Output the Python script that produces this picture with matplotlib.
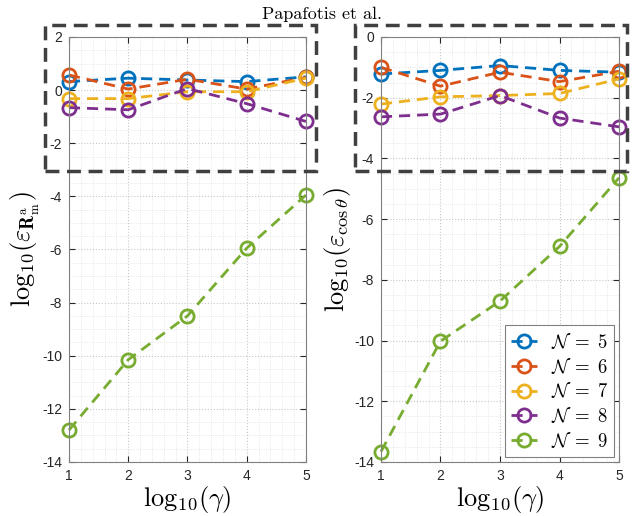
import matplotlib
matplotlib.use("Agg")
import matplotlib.pyplot as plt
from matplotlib.ticker import MultipleLocator
from matplotlib.patches import Rectangle

plt.rcParams['mathtext.fontset'] = 'cm'
plt.rcParams['axes.unicode_minus'] = False
plt.rcParams['font.family'] = ['Liberation Sans', 'DejaVu Sans']

gamma = [1, 2, 3, 4, 5]
labels = [r'$\mathcal{N}\;=\;5$', r'$\mathcal{N}\;=\;6$', r'$\mathcal{N}\;=\;7$',
          r'$\mathcal{N}\;=\;8$', r'$\mathcal{N}\;=\;9$']
colors = ['#0072BD', '#D95319', '#EDB120', '#7E2F8E', '#77AC30']

err_R_N5 = [0.32, 0.45, 0.38, 0.32, 0.50]
err_R_N6 = [0.57, 0.04, 0.41, 0.04, 0.48]
err_R_N7 = [-0.32, -0.32, -0.06, -0.06, 0.45]
err_R_N8 = [-0.66, -0.74, 0.06, -0.51, -1.18]
err_R_N9 = [-12.8, -10.15, -8.5, -5.95, -3.95]

err_cos_N5 = [-1.22, -1.10, -0.94, -1.10, -1.16]
err_cos_N6 = [-1.00, -1.62, -1.16, -1.47, -1.13]
err_cos_N7 = [-2.21, -1.97, -1.93, -1.86, -1.38]
err_cos_N8 = [-2.63, -2.54, -1.93, -2.67, -2.96]
err_cos_N9 = [-13.66, -10.02, -8.70, -6.90, -4.64]

left_series = [err_R_N5, err_R_N6, err_R_N7, err_R_N8, err_R_N9]
right_series = [err_cos_N5, err_cos_N6, err_cos_N7, err_cos_N8, err_cos_N9]

fig = plt.figure(figsize=(6.44, 5.16), dpi=100)
axL = fig.add_axes([0.1071, 0.1047, 0.368, 0.8236])
axR = fig.add_axes([0.5916, 0.1047, 0.3696, 0.8236])

def style(ax, ylim):
    ax.set_xlim(1, 5)
    ax.set_ylim(*ylim)
    ax.xaxis.set_major_locator(MultipleLocator(1))
    ax.xaxis.set_minor_locator(MultipleLocator(0.2))
    ax.yaxis.set_major_locator(MultipleLocator(2))
    ax.yaxis.set_minor_locator(MultipleLocator(0.5))
    ax.grid(True, which='major', linestyle=':', color='#c8c8c8', linewidth=0.8)
    ax.grid(True, which='minor', linestyle=':', color='#e0e0e0', linewidth=0.6)
    ax.set_axisbelow(True)
    ax.tick_params(which='both', direction='in', top=True, right=True,
                   labelsize=10, colors='#262626', labelcolor='#262626')
    ax.tick_params(which='major', length=4, pad=5)
    ax.tick_params(which='minor', length=0)
    for s in ax.spines.values():
        s.set_color('#808080')
        s.set_linewidth(0.8)
    ax.set_xlabel(r'$\mathrm{log}_{10}(\gamma)$', fontsize=19, labelpad=1)

for ax, series in ((axL, left_series), (axR, right_series)):
    for vals, c, lab in zip(series, colors, labels):
        ax.plot(gamma, vals, linestyle='--', color=c, linewidth=2.0,
                marker='o', markersize=9.5, markerfacecolor='none',
                markeredgewidth=2.0, dashes=(4, 2.5), label=lab, clip_on=False)

style(axL, (-14, 2))
style(axR, (-14, 0))
axL.set_ylabel(r'$\mathrm{log}_{10}(\varepsilon_{\mathbf{R}_{\mathrm{m}}^{\mathrm{a}}})$', fontsize=19, labelpad=0)
axR.set_ylabel(r'$\mathrm{log}_{10}(\varepsilon_{\cos\theta})$', fontsize=19, labelpad=1)

leg = axR.legend(loc='lower right', fontsize=13.5, handlelength=1.4,
                 handletextpad=0.7, borderpad=0.35, labelspacing=0.25,
                 fancybox=False, framealpha=1, edgecolor='#808080',
                 borderaxespad=0.25)
leg.get_frame().set_linewidth(0.8)

fig.text(0.5, 0.988, 'Papafotis et al.', ha='center', va='top',
         fontsize=13, family='cmr10')

for x0, x1 in ((0.0699, 0.4907), (0.5512, 0.9736)):
    fig.patches.append(Rectangle((x0, 0.6686), x1 - x0, 0.9516 - 0.6686,
                                 transform=fig.transFigure, fill=False,
                                 edgecolor='#404040', linewidth=2.5,
                                 linestyle=(0, (4, 2.2)), zorder=10))

fig.savefig('out.png', dpi=100)
